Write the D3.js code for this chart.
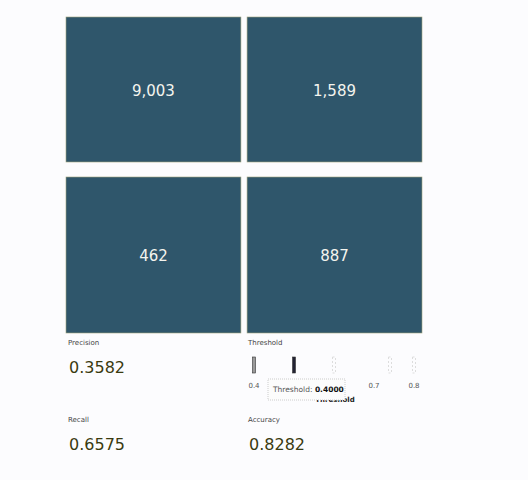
<!DOCTYPE html><html><head><script src="https://cdn.jsdelivr.net/npm/d3@7"></script>
<style>body{margin:0;background:#fcfcfe;font-family:"DejaVu Sans",sans-serif}</style></head><body><svg id="c" width="528" height="480"></svg>
<script>
const rows=["Actual 1","Actual 0"], cols=["Pred 1","Pred 0"];
const counts=[[9003,1589],[462,887]];
const metricNames=["Precision","Recall","Accuracy"];
const metricValues=[0.3582,0.6575,0.8282];
const thresholds=[0.4,0.5,0.6,0.74,0.8];
const thrTicks=[0.4,0.7,0.8];
const selected=0.4;
const svg=d3.select("#c");
const x=d3.scaleBand().domain(cols).range([66,422]).paddingInner(0.034);
const yTop=d3.scaleBand().domain(rows).range([17,333]).paddingInner(0.047);
const cells=[];counts.forEach((r,i)=>r.forEach((v,j)=>cells.push({r:rows[i],c:cols[j],v})));
const yb=d=>d.r===rows[0]?17:177, hh=d=>d.r===rows[0]?145:156;
svg.selectAll("rect.cell").data(cells).join("rect").attr("x",d=>x(d.c)).attr("y",yb).attr("width",x.bandwidth()).attr("height",hh)
 .attr("fill","#2f566b").attr("stroke","#9fa27a").attr("stroke-width",0.6);
svg.selectAll("text.cell").data(cells).join("text").attr("x",d=>x(d.c)+x.bandwidth()/2).attr("y",d=>yb(d)+hh(d)/2+6)
 .attr("text-anchor","middle").attr("fill","#f4f4ee").attr("font-size",15).text(d=>d3.format(",")(d.v));
const mpos=[[68,345],[68,422],[248,422]];
metricNames.forEach((n,i)=>{
 svg.append("text").attr("x",mpos[i][0]).attr("y",mpos[i][1]).attr("font-size",7).attr("fill","#444").text(n);
 svg.append("text").attr("x",mpos[i][0]+1).attr("y",mpos[i][1]+28).attr("font-size",16).attr("fill","#3a3a10").text(metricValues[i].toFixed(4));
});
svg.append("text").attr("x",248).attr("y",345).attr("font-size",7).attr("fill","#444").text("Threshold");
const tx=d3.scaleLinear().domain([0.4,0.8]).range([254,414]);
svg.selectAll("rect.t").data(thresholds).join("rect").attr("x",d=>tx(d)-1.5).attr("y",357).attr("width",3).attr("height",16)
 .attr("fill",d=>d===selected?"#999":d===0.5?"#223":"none").attr("stroke",d=>d===selected||d===0.5?"#333":"#ddd").attr("stroke-width",d=>d===selected||d===0.5?0.6:1).attr("stroke-dasharray",d=>d===selected||d===0.5?null:"2,2");
svg.selectAll("text.tk").data(thrTicks).join("text").attr("x",d=>tx(d)).attr("y",388).attr("text-anchor","middle").attr("font-size",7).attr("fill","#555").text(d=>d);
svg.append("text").attr("x",335).attr("y",402).attr("text-anchor","middle").attr("font-size",7).attr("fill","#222").attr("font-weight","bold").text("Threshold");
svg.append("rect").attr("x",268).attr("y",379).attr("width",77).attr("height",21).attr("fill","#fcfcfc").attr("stroke","#ccc").attr("stroke-dasharray","1,1");
const tt=svg.append("text").attr("x",273).attr("y",392).attr("font-size",7.5).attr("fill","#555");
tt.append("tspan").text("Threshold: ");tt.append("tspan").attr("font-weight","bold").attr("fill","#111").text(selected.toFixed(4));
</script></body></html>
